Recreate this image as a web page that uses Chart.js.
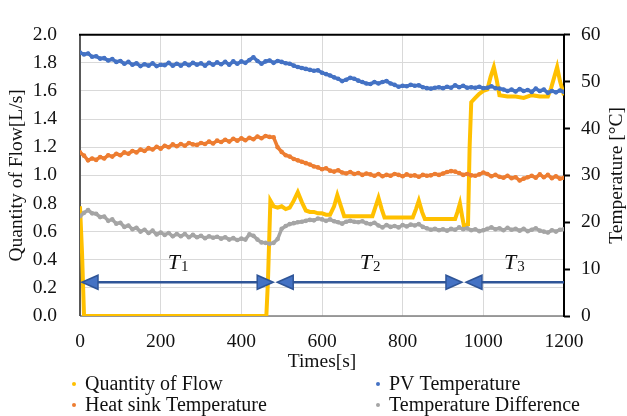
<!DOCTYPE html>
<html>
<head>
<meta charset="utf-8">
<script src="https://cdn.jsdelivr.net/npm/chart.js@4.4.1/dist/chart.umd.min.js"></script>
<style>
  html, body { margin: 0; padding: 0; background: #fff; }
  #wrap { width: 627px; height: 416px; }
</style>
</head>
<body>
<div id="wrap"><canvas id="chart"></canvas></div>
<script>
// ── Data ───────────────────────────────────────────────────
const times = [
  0, 10, 20, 30, 40, 50, 60, 70, 80, 90,
  100, 110, 120, 130, 140, 150, 160, 170, 180, 190,
  200, 210, 220, 230, 240, 250, 260, 270, 280, 290,
  300, 310, 320, 330, 340, 350, 360, 370, 380, 390,
  400, 410, 420, 430, 440, 450, 460, 470, 480, 490,
  500, 510, 520, 530, 540, 550, 560, 570, 580, 590,
  600, 610, 620, 630, 640, 650, 660, 670, 680, 690,
  700, 710, 720, 730, 740, 750, 760, 770, 780, 790,
  800, 810, 820, 830, 840, 850, 860, 870, 880, 890,
  900, 910, 920, 930, 940, 950, 960, 970, 980, 990,
  1000, 1010, 1020, 1030, 1040, 1050, 1060, 1070, 1080, 1090,
  1100, 1110, 1120, 1130, 1140, 1150, 1160, 1170, 1180, 1190,
  1200,
];

// PV temperature [°C]
const pvTemp = [
  56.2, 55.8, 56.0, 55.3, 55.4, 54.9, 55.0, 54.5, 54.8, 54.2,
  54.4, 53.8, 54.2, 53.6, 53.9, 53.3, 53.7, 53.4, 53.9, 53.3,
  53.6, 53.5, 54.0, 53.4, 53.8, 53.4, 53.9, 53.5, 54.0, 53.6,
  53.9, 53.4, 54.0, 53.6, 54.1, 53.7, 54.2, 53.6, 54.3, 53.8,
  54.3, 54.0, 54.6, 55.2, 54.4, 53.8, 54.3, 54.5, 54.0, 54.4,
  54.2, 53.9, 53.8, 53.4, 53.1, 52.9, 52.7, 52.5, 52.3, 52.4,
  51.9, 51.6, 51.3, 50.9, 50.6, 50.1, 50.4, 50.8, 50.6, 50.2,
  49.9, 49.6, 49.5, 49.9, 49.6, 49.9, 50.1, 49.6, 49.3, 48.9,
  49.1, 49.0, 49.3, 49.1, 49.2, 48.8, 48.6, 48.5, 48.7, 48.8,
  48.6, 48.9, 48.7, 49.2, 48.8, 49.1, 48.7, 48.8, 48.7, 48.9,
  48.6, 48.7, 49.0, 48.6, 48.5, 48.3, 48.0, 48.3, 47.9, 48.4,
  48.0, 48.2, 47.8, 48.5, 48.0, 48.3, 47.6, 48.0, 47.7, 48.1,
  47.8,
];

// Heat sink temperature [°C]
const sinkTemp = [
  34.9, 34.2, 33.2, 33.6, 33.3, 33.9, 33.6, 34.3, 34.0, 34.6,
  34.3, 34.9, 34.6, 35.2, 34.9, 35.5, 35.2, 35.8, 35.5, 36.1,
  35.7, 36.3, 36.0, 36.6, 36.2, 36.7, 36.3, 36.9, 36.6, 36.5,
  36.9, 36.7, 37.2, 36.8, 37.4, 37.1, 37.6, 37.2, 37.8, 37.4,
  37.9, 37.5, 38.0, 37.7, 38.3, 37.9, 38.4, 38.2, 38.1, 36.0,
  35.0, 34.3, 34.0, 33.5, 33.2, 32.9, 32.6, 32.3, 31.9, 31.7,
  31.3, 31.5, 31.0, 30.8, 31.1, 30.6, 30.4, 30.7, 30.3, 30.5,
  30.1, 30.4, 30.2, 29.9, 30.3, 29.8, 30.1, 29.9, 30.3, 30.1,
  29.8, 30.2, 29.9, 30.0, 29.7, 30.1, 29.9, 30.0, 30.3, 30.1,
  30.4, 30.7, 30.9, 30.8, 30.5, 30.1, 30.3, 30.0, 29.9, 30.2,
  30.6, 30.3, 29.8, 30.1, 29.7, 29.5, 29.9, 29.4, 29.6, 28.9,
  29.3, 29.6, 29.9, 29.5, 30.2, 29.6, 30.1, 29.4, 29.8, 29.3,
  29.5,
];

// Temperature difference [°C]
const diffTemp = [
  21.3, 22.0, 22.6, 21.9, 21.8, 21.1, 21.2, 20.3, 20.6, 19.7,
  19.9, 19.0, 19.3, 18.5, 18.8, 18.0, 18.4, 17.7, 18.2, 17.4,
  17.8, 17.3, 17.7, 17.0, 17.5, 17.0, 17.5, 16.8, 17.3, 16.8,
  17.1, 16.6, 17.0, 16.7, 16.9, 16.5, 16.8, 16.3, 16.6, 16.2,
  16.5, 16.3, 17.4, 17.1, 16.3, 15.7, 15.6, 15.4, 15.6, 16.4,
  18.6, 19.2, 19.6, 19.8, 20.0, 20.1, 20.3, 20.5, 20.4, 20.8,
  20.6, 20.3, 20.6, 20.2, 20.0, 19.7, 20.1, 20.3, 20.1, 20.0,
  20.2, 19.8, 19.6, 19.9, 19.3, 18.9, 19.4, 19.0, 19.2, 18.9,
  19.4, 19.1, 19.5, 19.3, 19.6, 19.0, 18.7, 18.4, 18.6, 18.3,
  18.5, 18.2, 18.6, 18.4, 18.9, 18.5, 18.7, 18.3, 18.5, 18.1,
  18.3, 18.6, 18.9, 18.5, 18.7, 18.3, 18.8, 18.4, 18.6, 18.2,
  18.6, 18.1, 18.4, 18.7, 18.2, 18.0, 17.8, 18.3, 18.0, 18.4,
  18.5,
];

// Quantity of flow [L/s]
const flowTimes = [
  0, 5, 10, 100, 200, 300, 400, 462, 466, 472, 480, 490, 500, 510, 520,
  530, 540, 550, 560, 570, 580, 590, 600, 610, 620, 630, 638, 647, 655,
  680, 700, 725, 733, 740, 748, 755, 780, 800, 825, 833, 840, 848, 855,
  880, 900, 930, 936, 942, 948, 952, 962, 966, 970, 980, 990, 1000, 1010,
  1018, 1026, 1033, 1040, 1060, 1080, 1100, 1120, 1140, 1160, 1168, 1176,
  1183, 1190, 1200,
];
const flowValues = [
  0.78, 0.45, 0.0, 0.0, 0.0, 0.0, 0.0, 0.0, 0.25, 0.82, 0.78, 0.77, 0.78, 0.76, 0.77,
  0.82, 0.88, 0.81, 0.75, 0.74, 0.74, 0.73, 0.73, 0.72, 0.72, 0.78, 0.86, 0.78, 0.71,
  0.71, 0.71, 0.71, 0.78, 0.84, 0.76, 0.70, 0.70, 0.70, 0.70, 0.76, 0.82, 0.74, 0.69,
  0.69, 0.69, 0.69, 0.74, 0.80, 0.70, 0.64, 0.65, 1.20, 1.52, 1.55, 1.58, 1.60, 1.61,
  1.70, 1.77, 1.68, 1.57, 1.56, 1.56, 1.55, 1.57, 1.56, 1.56, 1.62, 1.70,
  1.77, 1.67, 1.57,
];

// Period markers T1..T3 (boundaries in seconds)
const periodNames = ['1', '2', '3'];
const periodBounds = [0, 484, 952, 1200];

const SERIF = "'Liberation Serif', 'Times New Roman', serif";
const INK = '#111';

const SERIES = [
  { label: 'Quantity of Flow', color: '#ffc000' },
  { label: 'PV Temperature', color: '#4472c4' },
  { label: 'Heat sink Temperature', color: '#ed7d31' },
  { label: 'Temperature Difference', color: '#a5a5a5' },
];

const toPoints = (xs, ys) => xs.map((x, i) => ({ x, y: ys[i] }));

const tempStyle = (s, order) => ({
  borderColor: s.color, backgroundColor: s.color,
  borderWidth: 3.5, pointRadius: 2.3, pointBorderWidth: 0, order,
});

const datasets = [
  {
    label: SERIES[0].label, data: toPoints(flowTimes, flowValues), yAxisID: 'y',
    borderColor: SERIES[0].color, backgroundColor: SERIES[0].color,
    borderWidth: 4, pointRadius: 0, order: 4,
  },
  { label: SERIES[1].label, data: toPoints(times, pvTemp), yAxisID: 'y2', ...tempStyle(SERIES[1], 1) },
  { label: SERIES[2].label, data: toPoints(times, sinkTemp), yAxisID: 'y2', ...tempStyle(SERIES[2], 2) },
  { label: SERIES[3].label, data: toPoints(times, diffTemp), yAxisID: 'y2', ...tempStyle(SERIES[3], 3) },
];

// ── Frame, arrows, titles, legend ──────────────────────────
function arrowHead(ctx, tipX, y, dir) {
  // dir: -1 points left, +1 points right
  const len = 16, half = 7;
  ctx.beginPath();
  ctx.moveTo(tipX, y);
  ctx.lineTo(tipX - dir * len, y - half);
  ctx.lineTo(tipX - dir * len, y + half);
  ctx.closePath();
  ctx.fillStyle = '#4472c4';
  ctx.fill();
  ctx.lineWidth = 1.5;
  ctx.strokeStyle = '#2f5597';
  ctx.stroke();
}

function line(ctx, x1, y1, x2, y2, color, width) {
  ctx.beginPath();
  ctx.moveTo(x1, y1);
  ctx.lineTo(x2, y2);
  ctx.strokeStyle = color;
  ctx.lineWidth = width;
  ctx.stroke();
}

const decorations = {
  id: 'decorations',
  beforeDatasetsDraw(chart) {
    const { ctx, chartArea: a } = chart;
    ctx.save();
    line(ctx, a.left, a.bottom, a.right, a.bottom, '#7f7f7f', 1.5);
    line(ctx, a.left, a.top, a.left, a.bottom, '#595959', 2);
    line(ctx, a.left - 1, a.top, a.right + 1, a.top, '#000', 2);
    line(ctx, a.right, a.top, a.right, a.bottom + 1, '#000', 2);
    ctx.restore();
  },
  afterDatasetsDraw(chart) {
    const { ctx } = chart;
    const xs = chart.scales.x;
    const y = chart.scales.y2.getPixelForValue(7.2);
    ctx.save();
    periodNames.forEach((name, i) => {
      const x1 = xs.getPixelForValue(periodBounds[i]);
      const x2 = xs.getPixelForValue(periodBounds[i + 1]);
      const last = i === periodNames.length - 1;
      line(ctx, x1 + 4, y, last ? x2 : x2 - 4, y, '#2f5597', 2.5);
      arrowHead(ctx, x1 + 2, y, -1);
      if (!last) arrowHead(ctx, x2 - 2, y, 1);

      // label: italic T with upright subscript
      const cx = (x1 + x2) / 2;
      ctx.fillStyle = INK;
      ctx.textBaseline = 'alphabetic';
      ctx.font = `italic 22px ${SERIF}`;
      const wT = ctx.measureText('T').width;
      ctx.font = `15px ${SERIF}`;
      const wS = ctx.measureText(name).width;
      const left = cx - (wT + wS) / 2;
      ctx.font = `italic 22px ${SERIF}`;
      ctx.textAlign = 'left';
      ctx.fillText('T', left, y - 13);
      ctx.font = `15px ${SERIF}`;
      ctx.fillText(name, left + wT + 1, y - 11);
    });
    ctx.restore();
  },
  afterDraw(chart) {
    const { ctx, chartArea: a } = chart;
    const midY = (a.top + a.bottom) / 2;
    ctx.save();
    ctx.fillStyle = INK;
    ctx.font = `19.5px ${SERIF}`;
    ctx.textAlign = 'center';
    ctx.textBaseline = 'middle';

    // axis titles (both read bottom to top)
    ctx.save();
    ctx.translate(17, midY);
    ctx.rotate(-Math.PI / 2);
    ctx.fillText('Quantity of Flow[L/s]', 0, 0);
    ctx.restore();

    ctx.save();
    ctx.translate(617, midY);
    ctx.rotate(-Math.PI / 2);
    ctx.fillText('Temperature [°C]', 0, 0);
    ctx.restore();

    ctx.fillText('Times[s]', (a.left + a.right) / 2, 362);

    // legend: two columns, two rows
    const cols = [74, 378];
    const rows = [384, 405];
    ctx.font = `20px ${SERIF}`;
    ctx.textAlign = 'left';
    SERIES.forEach((s, i) => {
      const cx = cols[i % 2];
      const cy = rows[Math.floor(i / 2)];
      ctx.beginPath();
      ctx.arc(cx, cy, 2, 0, Math.PI * 2);
      ctx.fillStyle = s.color;
      ctx.fill();
      ctx.fillStyle = INK;
      ctx.fillText(s.label, cx + 11, cy + 1);
    });
    ctx.restore();
  },
};

const tickFont = { family: SERIF, size: 19.5 };

new Chart(document.getElementById('chart'), {
  type: 'line',
  data: { datasets },
  options: {
    responsive: true,
    maintainAspectRatio: false,
    animation: false,
    layout: { padding: { top: 16, left: 0, right: 0, bottom: 0 } },
    plugins: { legend: { display: false }, tooltip: { enabled: false } },
    elements: { line: { tension: 0 } },
    scales: {
      x: {
        type: 'linear', min: 0, max: 1200,
        ticks: { stepSize: 200, color: INK, font: tickFont, padding: 14, maxRotation: 0,
          callback: (v) => String(v) },
        grid: { color: '#d9d9d9', lineWidth: 1, drawTicks: false },
        border: { display: false },
        afterFit: (s) => { s.height = 100; },
      },
      y: {
        position: 'left', min: 0, max: 2,
        ticks: { stepSize: 0.2, color: INK, font: tickFont, padding: 23,
          callback: (v) => v.toFixed(1) },
        grid: { color: '#d9d9d9', lineWidth: 1, drawTicks: false },
        border: { display: false },
        afterFit: (s) => { s.width = 80; },
      },
      y2: {
        position: 'right', min: 0, max: 60,
        ticks: { stepSize: 10, color: INK, font: tickFont, padding: 11 },
        grid: { drawOnChartArea: false, drawTicks: true, tickLength: 6,
          tickColor: '#000', tickWidth: 2 },
        border: { display: false },
        afterFit: (s) => { s.width = 63; },
      },
    },
  },
  plugins: [decorations],
});
</script>
</body>
</html>
